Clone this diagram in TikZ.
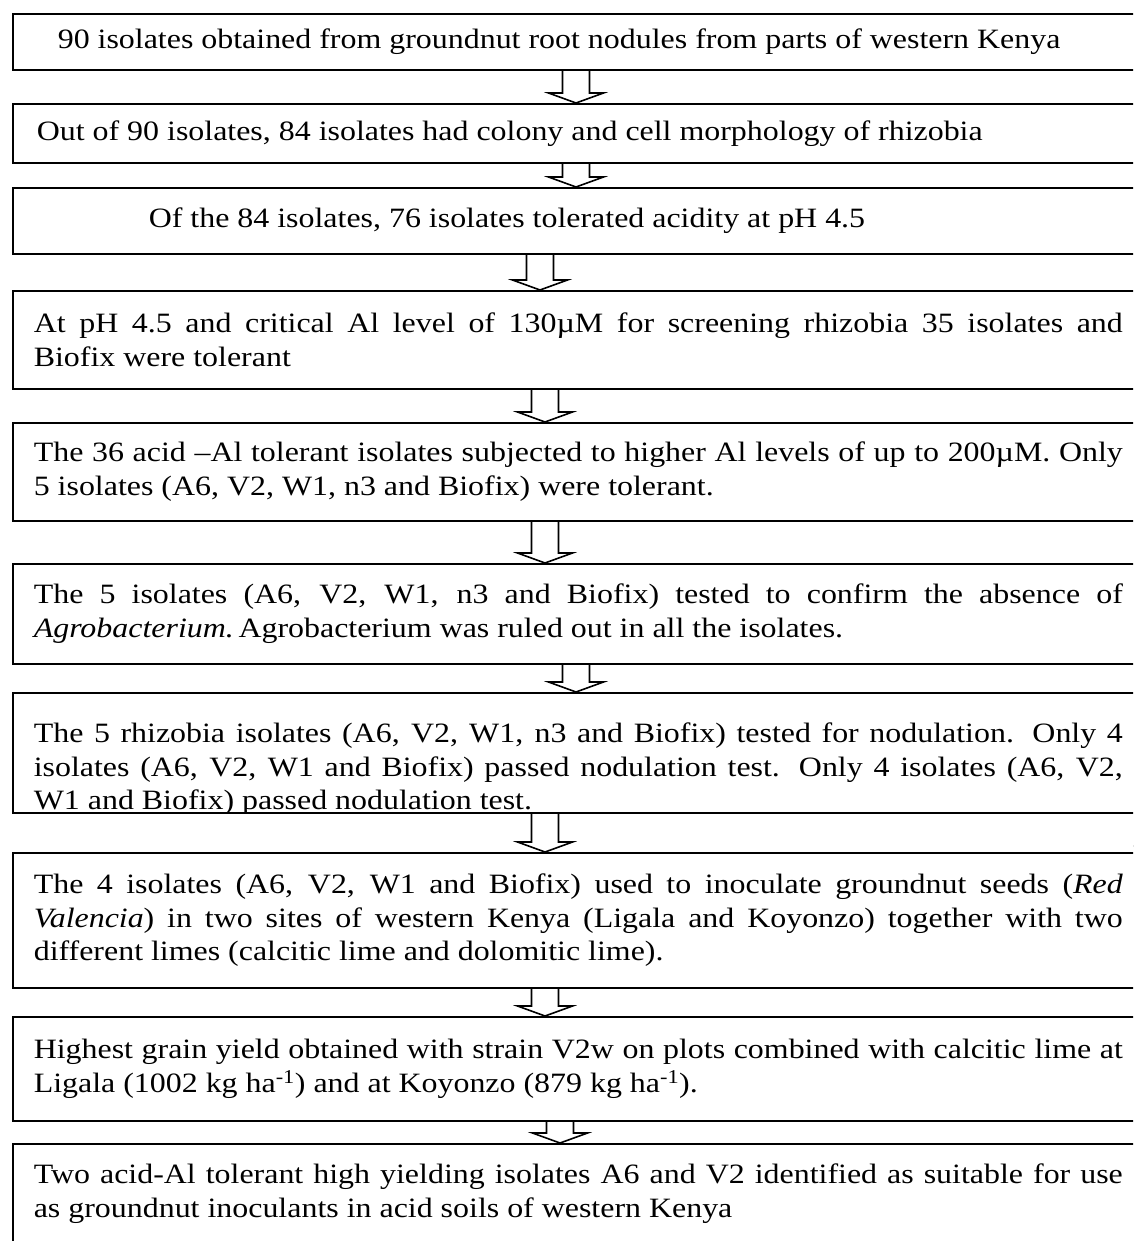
\documentclass[tikz,border=0pt]{standalone}
\usepackage{fontspec}
\setmainfont{Liberation Serif}[FakeStretch=1.14]
\usetikzlibrary{calc}
\hyphenpenalty=10000

\begin{document}
\begin{tikzpicture}[x=1pt, y=1pt, line width=1.6pt,
  box/.style={draw, anchor=north west, text width=1089pt, inner xsep=21pt,
    inner ysep=0pt, align=justify, font=\fontsize{28}{33.5}\selectfont},
  hollow/.style={line join=miter}]
\useasboundingbox (0,0) rectangle (1133,-1241);
\clip (0,0) rectangle (1133,-1241);
% the steps, top to bottom
\node [box, minimum height=56pt] (b1) at (12,-13)
  {\hspace*{24pt}90 isolates obtained from groundnut root nodules from parts of western Kenya};
\node [box, minimum height=59pt] (b2) at (12,-103)
  {\hspace*{3pt}Out of 90 isolates, 84 isolates had colony and cell morphology of rhizobia};
\node [box, minimum height=66pt] (b3) at (12,-187)
  {\hspace*{115pt}Of the 84 isolates, 76 isolates tolerated acidity at pH 4.5};
\node [box, minimum height=98pt] (b4) at (12,-290)
  {At pH 4.5 and critical Al level of 130µM for screening rhizobia 35 isolates and\linebreak
   Biofix were tolerant};
\node [box, minimum height=98pt] (b5) at (12,-422)
  {The 36 acid –Al tolerant isolates subjected to higher Al levels of up to 200µM. Only\linebreak
   5 isolates (A6, V2, W1, n3 and Biofix) were tolerant.};
\node [box, minimum height=100pt] (b6) at (12,-563)
  {The 5 isolates (A6, V2, W1, n3 and Biofix) tested to confirm the absence of\linebreak
   \textit{Agrobacterium.}\,Agrobacterium was ruled out in all the isolates.};
\node [box, minimum height=153pt] (b7) at (12,-692)
  {The 5 rhizobia isolates (A6, V2, W1, n3 and Biofix) tested for nodulation. Only 4\linebreak
   isolates (A6, V2, W1 and Biofix) passed nodulation test. Only 4 isolates (A6, V2,\linebreak
   W1 and Biofix) passed nodulation test.};
% box 7 is cut off through its third line
\path (b7.north west) ++(0,-121) coordinate (b7cut);
\fill [white] ([xshift=-2pt]b7cut) rectangle ([shift={(1140,-36)}]b7cut);
\draw (b7cut) -- ++(1131,0);
\node [box, minimum height=135pt] (b8) at (12,-852)
  {The 4 isolates (A6, V2, W1 and Biofix) used to inoculate groundnut seeds (\textit{Red}\linebreak
   \textit{Valencia}) in two sites of western Kenya (Ligala and Koyonzo) together with two\linebreak
   different limes (calcitic lime and dolomitic lime).};
\node [box, minimum height=104pt] (b9) at (12,-1016)
  {Highest grain yield obtained with strain V2w on plots combined with calcitic lime at\linebreak
   Ligala (1002 kg ha\textsuperscript{-1}) and at Koyonzo (879 kg ha\textsuperscript{-1}).};
\node [box, minimum height=100pt] (b10) at (12,-1143)
  {Two acid-Al tolerant high yielding isolates A6 and V2 identified as suitable for use\linebreak
   as groundnut inoculants in acid soils of western Kenya};
% hollow down arrows between the steps
\foreach \a/\b/\cx in {b1.south/b2/576, b2.south/b3/576, b3.south/b4/540,
    b4.south/b5/545, b5.south/b6/545, b6.south/b7/576, b7cut/b8/545,
    b8.south/b9/545, b9.south/b10/560}
  \draw [hollow] let \p1 = (\a), \p2 = (\b.north) in
    (\cx-13.5, \y1) -- (\cx-13.5, \y2+10pt) -- (\cx-27.5, \y2+10pt) -- (\cx, \y2)
    -- (\cx+27.5, \y2+10pt) -- (\cx+13.5, \y2+10pt) -- (\cx+13.5, \y1);
\end{tikzpicture}
\end{document}
